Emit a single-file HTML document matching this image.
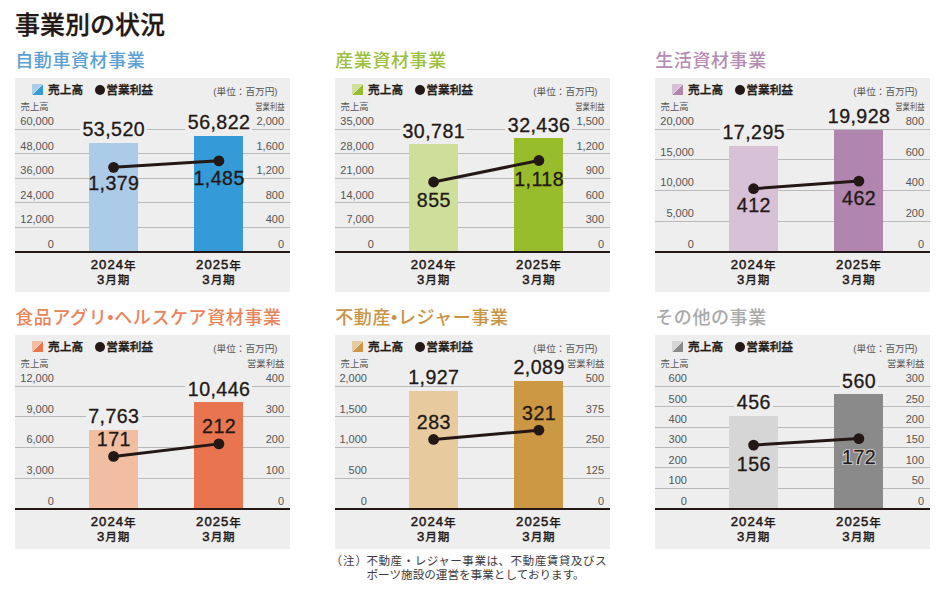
<!DOCTYPE html>
<html lang="ja"><head><meta charset="utf-8"><title>事業別の状況</title>
<style>
*{margin:0;padding:0;box-sizing:border-box}
html,body{width:945px;height:594px;background:#fff;overflow:hidden}
body{position:relative;font-family:"Liberation Sans","Noto Sans CJK JP",sans-serif;color:#231815}
.a{position:absolute;white-space:nowrap}
.pn{position:absolute;width:275px;height:214px;background:#eeeeee}
.g{position:absolute;left:0;width:275px;height:1px;background:#b9b9b9}
.bl{position:absolute;left:0;width:275px;height:2px;background:#231815}
.h1{left:15px;font-size:25px;font-weight:500;line-height:30px;-webkit-text-stroke:0.3px #231815}
.t{font-size:18px;font-weight:500;line-height:20px;letter-spacing:0.6px}
.lg{font-size:11.7px;font-weight:500;line-height:14px;-webkit-text-stroke:0.35px #231815}
.un{font-size:9.65px;line-height:12px;color:#555}
.ax{font-size:9.4px;line-height:12px;color:#555}
.yl{font-size:11px;line-height:12px;color:#555;text-align:right}
.v{-webkit-text-stroke:0.3px #231815;font-size:19.6px;line-height:20px;letter-spacing:0.45px;text-indent:0.45px;text-align:center;width:90px;margin-left:-45px}
.vb{background:#eeeeee;padding:0 2.2px}
.xl{font-size:12px;font-weight:500;line-height:14px;-webkit-text-stroke:0.25px #231815;text-align:center;width:80px;margin-left:-40px}
.xl i{font-style:normal;font-size:11.6px;position:relative;top:0.4px;letter-spacing:0.8px}
.xl b{font-weight:400;-webkit-text-stroke:0.5px #231815;font-size:13.1px;letter-spacing:1.0px}
.note{font-size:11.6px;line-height:13.9px;color:#3e3a39}
.n1{letter-spacing:0.46px}
</style></head><body>
<div class="a h1" style="top:10.2px">事業別の状況</div>

<div class="a t" style="left:15.2px;top:50.8px;color:#5b9fd5">自動車資材事業</div>
<div class="pn" style="left:15px;top:78px">
<div class="g" style="top:50.8px"></div>
<div class="g" style="top:75.3px"></div>
<div class="g" style="top:99.8px"></div>
<div class="g" style="top:124.3px"></div>
<div class="g" style="top:148.8px"></div>
<div class="a" style="left:74px;top:64.53px;width:49.2px;height:109.27px;background:#abcbe9"></div>
<div class="a" style="left:179.3px;top:57.79px;width:49.2px;height:116.01px;background:#349ad8"></div>
<div class="bl" style="top:172.8px"></div>
<svg class="a" style="left:17px;top:6px" width="11" height="11" viewBox="0 0 11 11"><polygon points="0,0 11,0 0,11" fill="#abcbe9"/><polygon points="11,0 11,11 0,11" fill="#349ad8"/><line x1="0" y1="11" x2="11" y2="0" stroke="#eeeeee" stroke-width="0.6"/></svg>
<div class="a lg" style="left:33px;top:4.8px">売上高</div>
<div class="a" style="left:79.8px;top:6.6px;width:10.2px;height:10.2px;border-radius:50%;background:#231815"></div>
<div class="a lg" style="left:91.3px;top:4.8px">営業利益</div>
<div class="a un" style="left:198.3px;top:8px">(単位：百万円)</div>
<div class="a ax" style="left:5.5px;top:23px">売上高</div>
<div class="a ax" style="right:5.5px;top:23px;transform:scaleX(0.78);transform-origin:right center">営業利益</div>
<div class="a yl" style="right:236.06px;top:37.19px">60,000</div>
<div class="a yl" style="right:6px;top:37.19px">2,000</div>
<div class="a yl" style="right:236.06px;top:61.69px">48,000</div>
<div class="a yl" style="right:6px;top:61.69px">1,600</div>
<div class="a yl" style="right:236.06px;top:86.19px">36,000</div>
<div class="a yl" style="right:6px;top:86.19px">1,200</div>
<div class="a yl" style="right:236.06px;top:110.69px">24,000</div>
<div class="a yl" style="right:6px;top:110.69px">800</div>
<div class="a yl" style="right:236.06px;top:135.19px">12,000</div>
<div class="a yl" style="right:6px;top:135.19px">400</div>
<div class="a yl" style="right:236.06px;top:159.69px">0</div>
<div class="a yl" style="right:6px;top:159.69px">0</div>
<svg class="a" style="left:0;top:0" width="275" height="214"><line x1="98.6" y1="89.34" x2="203.9" y2="82.84" stroke="#231815" stroke-width="3"/><circle cx="98.6" cy="89.34" r="5.4" fill="#231815"/><circle cx="203.9" cy="82.84" r="5.4" fill="#231815"/></svg>
<div class="a" style="left:65.01px;top:42.8px;width:67.19px;height:16.03px;background:#eeeeee"></div>
<div class="a v" style="left:98.6px;top:41.04px">53,520</div>
<div class="a" style="left:170.31px;top:36.05px;width:67.19px;height:16.03px;background:#eeeeee"></div>
<div class="a v" style="left:203.9px;top:34.3px">56,822</div>
<div class="a v" style="left:98.6px;top:95.48px">1,379</div>
<div class="a v" style="left:203.9px;top:90.09px">1,485</div>
<div class="a xl" style="left:98.6px;top:180.3px"><b>2024</b><i>年</i></div>
<div class="a xl" style="left:98.6px;top:195px"><b>3</b><i>月期</i></div>
<div class="a xl" style="left:203.9px;top:180.3px"><b>2025</b><i>年</i></div>
<div class="a xl" style="left:203.9px;top:195px"><b>3</b><i>月期</i></div>
</div>
<div class="a t" style="left:335.2px;top:50.8px;color:#9cbf3e">産業資材事業</div>
<div class="pn" style="left:335px;top:78px">
<div class="g" style="top:50.8px"></div>
<div class="g" style="top:75.3px"></div>
<div class="g" style="top:99.8px"></div>
<div class="g" style="top:124.3px"></div>
<div class="g" style="top:148.8px"></div>
<div class="a" style="left:74px;top:66.07px;width:49.2px;height:107.73px;background:#cedf9a"></div>
<div class="a" style="left:179.3px;top:60.27px;width:49.2px;height:113.53px;background:#98bd2c"></div>
<div class="bl" style="top:172.8px"></div>
<svg class="a" style="left:17px;top:6px" width="11" height="11" viewBox="0 0 11 11"><polygon points="0,0 11,0 0,11" fill="#cedf9a"/><polygon points="11,0 11,11 0,11" fill="#98bd2c"/><line x1="0" y1="11" x2="11" y2="0" stroke="#eeeeee" stroke-width="0.6"/></svg>
<div class="a lg" style="left:33px;top:4.8px">売上高</div>
<div class="a" style="left:79.8px;top:6.6px;width:10.2px;height:10.2px;border-radius:50%;background:#231815"></div>
<div class="a lg" style="left:91.3px;top:4.8px">営業利益</div>
<div class="a un" style="left:198.3px;top:8px">(単位：百万円)</div>
<div class="a ax" style="left:5.5px;top:23px">売上高</div>
<div class="a ax" style="right:5.5px;top:23px;transform:scaleX(0.78);transform-origin:right center">営業利益</div>
<div class="a yl" style="right:236.06px;top:37.19px">35,000</div>
<div class="a yl" style="right:6px;top:37.19px">1,500</div>
<div class="a yl" style="right:236.06px;top:61.69px">28,000</div>
<div class="a yl" style="right:6px;top:61.69px">1,200</div>
<div class="a yl" style="right:236.06px;top:86.19px">21,000</div>
<div class="a yl" style="right:6px;top:86.19px">900</div>
<div class="a yl" style="right:236.06px;top:110.69px">14,000</div>
<div class="a yl" style="right:6px;top:110.69px">600</div>
<div class="a yl" style="right:236.06px;top:135.19px">7,000</div>
<div class="a yl" style="right:6px;top:135.19px">300</div>
<div class="a yl" style="right:236.06px;top:159.69px">0</div>
<div class="a yl" style="right:6px;top:159.69px">0</div>
<svg class="a" style="left:0;top:0" width="275" height="214"><line x1="98.6" y1="103.98" x2="203.9" y2="82.5" stroke="#231815" stroke-width="3"/><circle cx="98.6" cy="103.98" r="5.4" fill="#231815"/><circle cx="203.9" cy="82.5" r="5.4" fill="#231815"/></svg>
<div class="a" style="left:65.01px;top:44.33px;width:67.19px;height:16.03px;background:#eeeeee"></div>
<div class="a v" style="left:98.6px;top:42.58px">30,781</div>
<div class="a" style="left:170.31px;top:38.54px;width:67.19px;height:16.03px;background:#eeeeee"></div>
<div class="a v" style="left:203.9px;top:36.78px">32,436</div>
<div class="a v" style="left:98.6px;top:112.22px">855</div>
<div class="a v" style="left:203.9px;top:90.79px">1,118</div>
<div class="a xl" style="left:98.6px;top:180.3px"><b>2024</b><i>年</i></div>
<div class="a xl" style="left:98.6px;top:195px"><b>3</b><i>月期</i></div>
<div class="a xl" style="left:203.9px;top:180.3px"><b>2025</b><i>年</i></div>
<div class="a xl" style="left:203.9px;top:195px"><b>3</b><i>月期</i></div>
</div>
<div class="a t" style="left:655.2px;top:50.8px;color:#b48cb4">生活資材事業</div>
<div class="pn" style="left:655px;top:78px">
<div class="g" style="top:50.8px"></div>
<div class="g" style="top:81.42px"></div>
<div class="g" style="top:112.05px"></div>
<div class="g" style="top:142.68px"></div>
<div class="a" style="left:74px;top:67.87px;width:49.2px;height:105.93px;background:#d7c1d7"></div>
<div class="a" style="left:179.3px;top:51.74px;width:49.2px;height:122.06px;background:#b085ae"></div>
<div class="bl" style="top:172.8px"></div>
<svg class="a" style="left:17px;top:6px" width="11" height="11" viewBox="0 0 11 11"><polygon points="0,0 11,0 0,11" fill="#d7c1d7"/><polygon points="11,0 11,11 0,11" fill="#b085ae"/><line x1="0" y1="11" x2="11" y2="0" stroke="#eeeeee" stroke-width="0.6"/></svg>
<div class="a lg" style="left:33px;top:4.8px">売上高</div>
<div class="a" style="left:79.8px;top:6.6px;width:10.2px;height:10.2px;border-radius:50%;background:#231815"></div>
<div class="a lg" style="left:91.3px;top:4.8px">営業利益</div>
<div class="a un" style="left:198.3px;top:8px">(単位：百万円)</div>
<div class="a ax" style="left:5.5px;top:23px">売上高</div>
<div class="a ax" style="right:5.5px;top:23px;transform:scaleX(0.78);transform-origin:right center">営業利益</div>
<div class="a yl" style="right:236.06px;top:37.19px">20,000</div>
<div class="a yl" style="right:6px;top:37.19px">800</div>
<div class="a yl" style="right:236.06px;top:67.81px">15,000</div>
<div class="a yl" style="right:6px;top:67.81px">600</div>
<div class="a yl" style="right:236.06px;top:98.44px">10,000</div>
<div class="a yl" style="right:6px;top:98.44px">400</div>
<div class="a yl" style="right:236.06px;top:129.06px">5,000</div>
<div class="a yl" style="right:6px;top:129.06px">200</div>
<div class="a yl" style="right:236.06px;top:159.69px">0</div>
<div class="a yl" style="right:6px;top:159.69px">0</div>
<svg class="a" style="left:0;top:0" width="275" height="214"><line x1="98.6" y1="110.71" x2="203.9" y2="103.06" stroke="#231815" stroke-width="3"/><circle cx="98.6" cy="110.71" r="5.4" fill="#231815"/><circle cx="203.9" cy="103.06" r="5.4" fill="#231815"/></svg>
<div class="a" style="left:65.01px;top:46.13px;width:67.19px;height:16.03px;background:#eeeeee"></div>
<div class="a v" style="left:98.6px;top:44.38px">17,295</div>
<div class="a" style="left:170.31px;top:30.01px;width:67.19px;height:16.03px;background:#eeeeee"></div>
<div class="a v" style="left:203.9px;top:28.25px">19,928</div>
<div class="a v" style="left:98.6px;top:117.25px">412</div>
<div class="a v" style="left:203.9px;top:109.7px">462</div>
<div class="a xl" style="left:98.6px;top:180.3px"><b>2024</b><i>年</i></div>
<div class="a xl" style="left:98.6px;top:195px"><b>3</b><i>月期</i></div>
<div class="a xl" style="left:203.9px;top:180.3px"><b>2025</b><i>年</i></div>
<div class="a xl" style="left:203.9px;top:195px"><b>3</b><i>月期</i></div>
</div>
<div class="a t" style="left:15.2px;top:307.8px;color:#e8845c">食品アグリ•ヘルスケア資材事業</div>
<div class="pn" style="left:15px;top:335px">
<div class="g" style="top:50.8px"></div>
<div class="g" style="top:81.42px"></div>
<div class="g" style="top:112.05px"></div>
<div class="g" style="top:142.68px"></div>
<div class="a" style="left:74px;top:94.55px;width:49.2px;height:79.25px;background:#f1bea2"></div>
<div class="a" style="left:179.3px;top:67.16px;width:49.2px;height:106.64px;background:#e8754f"></div>
<div class="bl" style="top:172.8px"></div>
<svg class="a" style="left:17px;top:6px" width="11" height="11" viewBox="0 0 11 11"><polygon points="0,0 11,0 0,11" fill="#f1bea2"/><polygon points="11,0 11,11 0,11" fill="#e8754f"/><line x1="0" y1="11" x2="11" y2="0" stroke="#eeeeee" stroke-width="0.6"/></svg>
<div class="a lg" style="left:33px;top:4.8px">売上高</div>
<div class="a" style="left:79.8px;top:6.6px;width:10.2px;height:10.2px;border-radius:50%;background:#231815"></div>
<div class="a lg" style="left:91.3px;top:4.8px">営業利益</div>
<div class="a un" style="left:198.3px;top:8px">(単位：百万円)</div>
<div class="a ax" style="left:5.5px;top:23px">売上高</div>
<div class="a ax" style="right:5.5px;top:23px">営業利益</div>
<div class="a yl" style="right:236.06px;top:37.19px">12,000</div>
<div class="a yl" style="right:6px;top:37.19px">400</div>
<div class="a yl" style="right:236.06px;top:67.81px">9,000</div>
<div class="a yl" style="right:6px;top:67.81px">300</div>
<div class="a yl" style="right:236.06px;top:98.44px">6,000</div>
<div class="a yl" style="right:6px;top:98.44px">200</div>
<div class="a yl" style="right:236.06px;top:129.06px">3,000</div>
<div class="a yl" style="right:6px;top:129.06px">100</div>
<div class="a yl" style="right:236.06px;top:159.69px">0</div>
<div class="a yl" style="right:6px;top:159.69px">0</div>
<svg class="a" style="left:0;top:0" width="275" height="214"><line x1="98.6" y1="121.43" x2="203.9" y2="108.88" stroke="#231815" stroke-width="3"/><circle cx="98.6" cy="121.43" r="5.4" fill="#231815"/><circle cx="203.9" cy="108.88" r="5.4" fill="#231815"/></svg>
<div class="a" style="left:70.68px;top:72.82px;width:55.84px;height:16.03px;background:#eeeeee"></div>
<div class="a v" style="left:98.6px;top:71.06px">7,763</div>
<div class="a" style="left:170.31px;top:45.43px;width:67.19px;height:16.03px;background:#eeeeee"></div>
<div class="a v" style="left:203.9px;top:43.67px">10,446</div>
<div class="a v" style="left:98.6px;top:93.99px">171</div>
<div class="a v" style="left:203.9px;top:81.43px">212</div>
<div class="a xl" style="left:98.6px;top:180.3px"><b>2024</b><i>年</i></div>
<div class="a xl" style="left:98.6px;top:195px"><b>3</b><i>月期</i></div>
<div class="a xl" style="left:203.9px;top:180.3px"><b>2025</b><i>年</i></div>
<div class="a xl" style="left:203.9px;top:195px"><b>3</b><i>月期</i></div>
</div>
<div class="a t" style="left:335.2px;top:307.8px;color:#c99445">不動産•レジャー事業</div>
<div class="pn" style="left:335px;top:335px">
<div class="g" style="top:50.8px"></div>
<div class="g" style="top:81.42px"></div>
<div class="g" style="top:112.05px"></div>
<div class="g" style="top:142.68px"></div>
<div class="a" style="left:74px;top:55.77px;width:49.2px;height:118.03px;background:#e7cb9f"></div>
<div class="a" style="left:179.3px;top:45.85px;width:49.2px;height:127.95px;background:#cd9844"></div>
<div class="bl" style="top:172.8px"></div>
<svg class="a" style="left:17px;top:6px" width="11" height="11" viewBox="0 0 11 11"><polygon points="0,0 11,0 0,11" fill="#e7cb9f"/><polygon points="11,0 11,11 0,11" fill="#cd9844"/><line x1="0" y1="11" x2="11" y2="0" stroke="#eeeeee" stroke-width="0.6"/></svg>
<div class="a lg" style="left:33px;top:4.8px">売上高</div>
<div class="a" style="left:79.8px;top:6.6px;width:10.2px;height:10.2px;border-radius:50%;background:#231815"></div>
<div class="a lg" style="left:91.3px;top:4.8px">営業利益</div>
<div class="a un" style="left:198.3px;top:8px">(単位：百万円)</div>
<div class="a ax" style="left:5.5px;top:23px">売上高</div>
<div class="a ax" style="right:5.5px;top:23px">営業利益</div>
<div class="a yl" style="right:243.1px;top:37.19px">2,000</div>
<div class="a yl" style="right:6px;top:37.19px">500</div>
<div class="a yl" style="right:243.1px;top:67.81px">1,500</div>
<div class="a yl" style="right:6px;top:67.81px">375</div>
<div class="a yl" style="right:243.1px;top:98.44px">1,000</div>
<div class="a yl" style="right:6px;top:98.44px">250</div>
<div class="a yl" style="right:243.1px;top:129.06px">500</div>
<div class="a yl" style="right:6px;top:129.06px">125</div>
<div class="a yl" style="right:243.1px;top:159.69px">0</div>
<div class="a yl" style="right:6px;top:159.69px">0</div>
<svg class="a" style="left:0;top:0" width="275" height="214"><line x1="98.6" y1="104.47" x2="203.9" y2="95.16" stroke="#231815" stroke-width="3"/><circle cx="98.6" cy="104.47" r="5.4" fill="#231815"/><circle cx="203.9" cy="95.16" r="5.4" fill="#231815"/></svg>
<div class="a" style="left:70.68px;top:34.04px;width:55.84px;height:16.03px;background:#eeeeee"></div>
<div class="a v" style="left:98.6px;top:32.28px">1,927</div>
<div class="a" style="left:175.98px;top:24.12px;width:55.84px;height:16.03px;background:#eeeeee"></div>
<div class="a v" style="left:203.9px;top:22.36px">2,089</div>
<div class="a v" style="left:98.6px;top:77.02px">283</div>
<div class="a v" style="left:203.9px;top:67.71px">321</div>
<div class="a xl" style="left:98.6px;top:180.3px"><b>2024</b><i>年</i></div>
<div class="a xl" style="left:98.6px;top:195px"><b>3</b><i>月期</i></div>
<div class="a xl" style="left:203.9px;top:180.3px"><b>2025</b><i>年</i></div>
<div class="a xl" style="left:203.9px;top:195px"><b>3</b><i>月期</i></div>
</div>
<div class="a t" style="left:655.2px;top:307.8px;color:#a9a9a9">その他の事業</div>
<div class="pn" style="left:655px;top:335px">
<div class="g" style="top:50.8px"></div>
<div class="g" style="top:71.22px"></div>
<div class="g" style="top:91.63px"></div>
<div class="g" style="top:112.05px"></div>
<div class="g" style="top:132.47px"></div>
<div class="g" style="top:152.88px"></div>
<div class="a" style="left:74px;top:80.7px;width:49.2px;height:93.1px;background:#d6d6d6"></div>
<div class="a" style="left:179.3px;top:59.47px;width:49.2px;height:114.33px;background:#8a8a8a"></div>
<div class="bl" style="top:172.8px"></div>
<svg class="a" style="left:17px;top:6px" width="11" height="11" viewBox="0 0 11 11"><polygon points="0,0 11,0 0,11" fill="#d6d6d6"/><polygon points="11,0 11,11 0,11" fill="#8a8a8a"/><line x1="0" y1="11" x2="11" y2="0" stroke="#eeeeee" stroke-width="0.6"/></svg>
<div class="a lg" style="left:33px;top:4.8px">売上高</div>
<div class="a" style="left:79.8px;top:6.6px;width:10.2px;height:10.2px;border-radius:50%;background:#231815"></div>
<div class="a lg" style="left:91.3px;top:4.8px">営業利益</div>
<div class="a un" style="left:198.3px;top:8px">(単位：百万円)</div>
<div class="a ax" style="left:5.5px;top:23px">売上高</div>
<div class="a ax" style="right:5.5px;top:23px">営業利益</div>
<div class="a yl" style="right:243.1px;top:37.19px">600</div>
<div class="a yl" style="right:6px;top:37.19px">300</div>
<div class="a yl" style="right:243.1px;top:57.61px">500</div>
<div class="a yl" style="right:6px;top:57.61px">250</div>
<div class="a yl" style="right:243.1px;top:78.02px">400</div>
<div class="a yl" style="right:6px;top:78.02px">200</div>
<div class="a yl" style="right:243.1px;top:98.44px">300</div>
<div class="a yl" style="right:6px;top:98.44px">150</div>
<div class="a yl" style="right:243.1px;top:118.86px">200</div>
<div class="a yl" style="right:6px;top:118.86px">100</div>
<div class="a yl" style="right:243.1px;top:139.27px">100</div>
<div class="a yl" style="right:6px;top:139.27px">50</div>
<div class="a yl" style="right:243.1px;top:159.69px">0</div>
<div class="a yl" style="right:6px;top:159.69px">0</div>
<svg class="a" style="left:0;top:0" width="275" height="214"><line x1="98.6" y1="110.1" x2="203.9" y2="103.57" stroke="#231815" stroke-width="3"/><circle cx="98.6" cy="110.1" r="5.4" fill="#231815"/><circle cx="203.9" cy="103.57" r="5.4" fill="#231815"/></svg>
<div class="a" style="left:79.3px;top:58.97px;width:38.59px;height:16.03px;background:#eeeeee"></div>
<div class="a v" style="left:98.6px;top:57.21px">456</div>
<div class="a" style="left:184.6px;top:37.73px;width:38.59px;height:16.03px;background:#eeeeee"></div>
<div class="a v" style="left:203.9px;top:35.98px">560</div>
<div class="a v" style="left:98.6px;top:118.54px">156</div>
<div class="a v" style="left:203.9px;top:111.51px;-webkit-text-stroke:2px rgba(255,255,255,0.75);color:transparent">172</div>
<div class="a v" style="left:203.9px;top:111.51px">172</div>
<div class="a xl" style="left:98.6px;top:180.3px"><b>2024</b><i>年</i></div>
<div class="a xl" style="left:98.6px;top:195px"><b>3</b><i>月期</i></div>
<div class="a xl" style="left:203.9px;top:180.3px"><b>2025</b><i>年</i></div>
<div class="a xl" style="left:203.9px;top:195px"><b>3</b><i>月期</i></div>
</div>
<div class="a note" style="left:330.6px;top:554.3px;letter-spacing:0.8px;text-spacing-trim:space-all">（注）</div>
<div class="a note" style="left:366.5px;top:554.3px"><span class="n1">不動産・レジャー事業は、不動産賃貸及びス</span><br>ポーツ施設の運営を事業としております。</div>
</body></html>
